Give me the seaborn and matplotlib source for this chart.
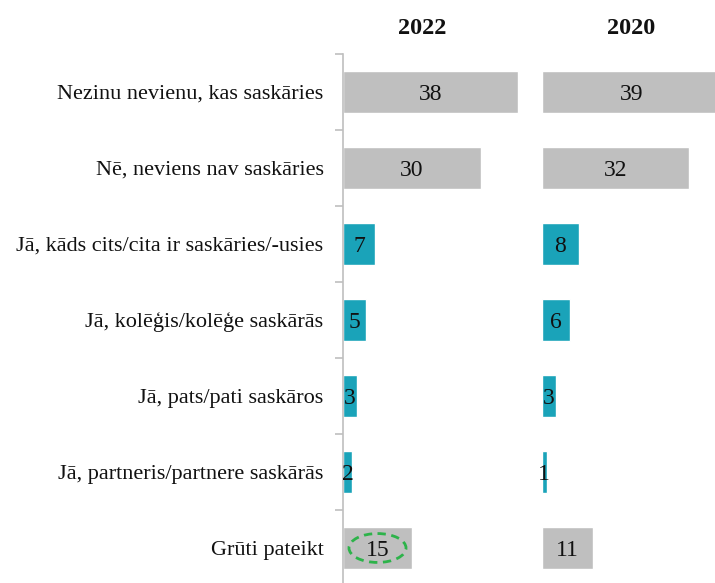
"""
Horizontal bar comparison 2022 vs 2020.
"""

import matplotlib
matplotlib.use("Agg")
import matplotlib.pyplot as plt
from matplotlib.patches import Ellipse
import seaborn as sns
import pandas as pd


categories = [
    "Nezinu nevienu, kas saskāries",
    "Nē, neviens nav saskāries",
    "Jā, kāds cits/cita ir saskāries/-usies",
    "Jā, kolēģis/kolēģe saskārās",
    "Jā, pats/pati saskāros",
    "Jā, partneris/partnere saskārās",
    "Grūti pateikt",
]
values_2022 = [38, 30, 7, 5, 3, 2, 15]
values_2020 = [39, 32, 8, 6, 3, 1, 11]
groups = ["nē", "nē", "jā", "jā", "jā", "jā", "nē"]
years = ["2022", "2020"]

PALETTE = {"nē": "#BFBFBF", "jā": "#1AA3B9"}
TEXT = "#111111"

sns.set_style("white")
plt.rcParams["font.family"] = ["Liberation Serif", "DejaVu Serif"]

W, H = 715, 583
fig = plt.figure(figsize=(W / 100, H / 100), dpi=100)

px_per_unit = 4.6
ax_w = 40 * px_per_unit
ax1 = fig.add_axes([343 / W, -3 / H, ax_w / W, 532 / H])
ax2 = fig.add_axes([542 / W, -3 / H, ax_w / W, 532 / H])

for ax, vals, year in zip([ax1, ax2], [values_2022, values_2020], years):
    df = pd.DataFrame({"cat": categories, "val": vals, "grp": groups})
    sns.barplot(data=df, y="cat", x="val", hue="grp", palette=PALETTE,
                dodge=False, legend=False, width=0.56, ax=ax,
                saturation=1)
    for c in ax.containers:
        for bar, v in zip(c.patches, c.datavalues):
            if v != v or v <= 0:
                continue
            ax.text(bar.get_x() + bar.get_width() / 2,
                    bar.get_y() + bar.get_height() / 2, f"{v:g}",
                    ha="center", va="center_baseline", fontsize=17, color=TEXT)
    ax.set_xlim(0, 40)
    ax.set_ylim(len(categories) - 0.5, -0.5)
    ax.set_xlabel("")
    ax.set_ylabel("")
    ax.set_xticks([])
    for s in ["top", "right", "bottom", "left"]:
        ax.spines[s].set_visible(False)

# left axis: category labels and boundary ticks
ax1.spines["left"].set_visible(True)
ax1.spines["left"].set_color("#BFBFBF")
ax1.spines["left"].set_linewidth(1.2)
ax1.set_yticks(range(len(categories)))
ax1.set_yticklabels(categories, fontsize=16, color=TEXT)
ax1.tick_params(axis="y", which="major", left=False, length=0, pad=14)
ax1.set_yticks([i - 0.5 for i in range(len(categories))], minor=True)
ax1.tick_params(axis="y", which="minor", left=True, direction="out",
                length=6, width=1.2, color="#BFBFBF")
ax2.set_yticks([])

# dashed highlight around "Grūti pateikt" 2022
ax1.add_patch(Ellipse((7.5, 6), 12.4, 0.38, fill=False,
                      edgecolor="#2DB34A", linestyle=(0, (3, 2)), linewidth=2))

fig.text(422 / W, 1 - 28 / H, years[0], ha="center", va="center",
         fontsize=17.5, fontweight="bold", color=TEXT)
fig.text(631 / W, 1 - 28 / H, years[1], ha="center", va="center",
         fontsize=17.5, fontweight="bold", color=TEXT)

plt.savefig("out.png", dpi=100)
